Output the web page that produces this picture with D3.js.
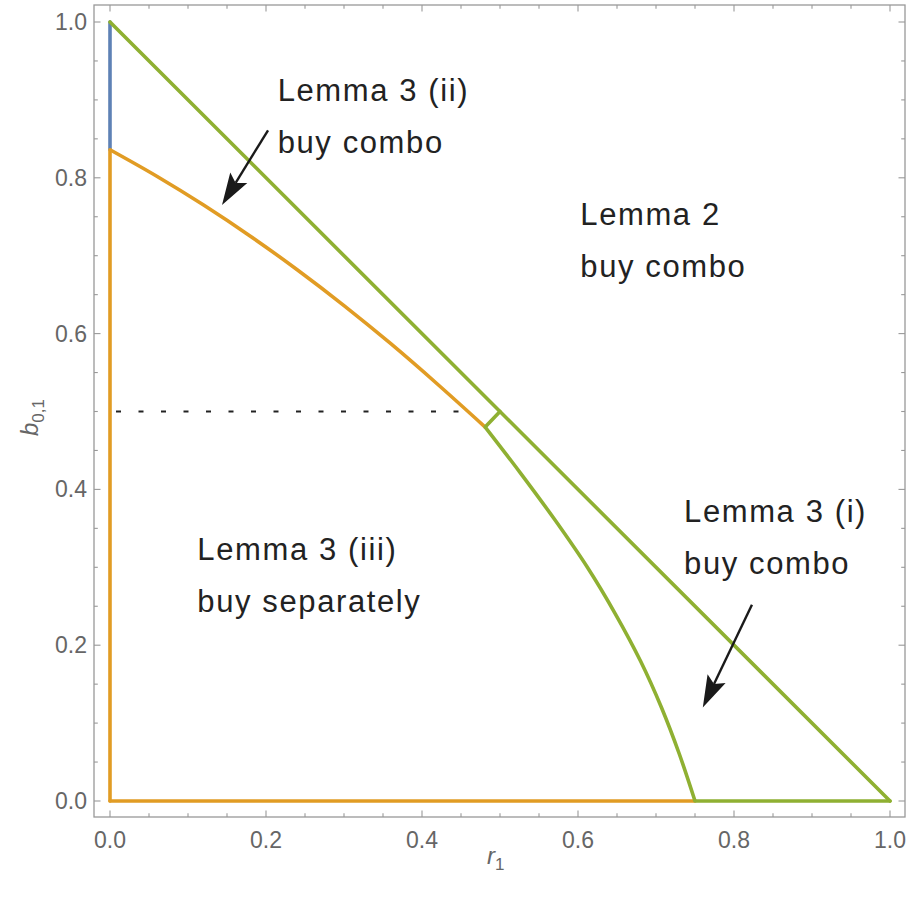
<!DOCTYPE html>
<html>
<head>
<meta charset="utf-8">
<script src="https://cdn.jsdelivr.net/npm/d3@7"></script>
<style>
  body { margin: 0; background: #fff; }
  .tick-label { font-family: "Liberation Sans", Arial, sans-serif; font-size: 23px; fill: #666; }
  .note { font-family: "Liberation Sans", Arial, sans-serif; font-size: 31px; fill: #222; letter-spacing: 1.6px; }
  .axis-title { font-family: "Liberation Sans", Arial, sans-serif; font-style: italic; font-size: 24px; fill: #666; }
</style>
</head>
<body>
<svg id="chart" width="912" height="901"></svg>
<script>
// region boundaries
const orangeR = [0, 0.06, 0.12, 0.18, 0.24, 0.30, 0.36, 0.42, 0.481];
const orangeB = [0.836, 0.802, 0.765, 0.725, 0.682, 0.636, 0.587, 0.535, 0.480];
const greenR = [0.481, 0.527, 0.571, 0.612, 0.648, 0.680, 0.707, 0.730, 0.75];
const greenB = [0.480, 0.42, 0.36, 0.30, 0.24, 0.18, 0.12, 0.06, 0];

// straight pieces: [r1, b1, r2, b2]
const blueSegs = [[0, 0.836, 0, 1]];
const orangeSegs = [[0, 0, 0, 0.836], [0, 0, 0.75, 0]];
const greenSegs = [[0, 1, 1, 0], [0.75, 0, 1, 0], [0.481, 0.48, 0.5, 0.5]];
const dottedSeg = [0, 0.5, 0.462, 0.5];

const majorTicks = [0, 0.2, 0.4, 0.6, 0.8, 1.0];
const minorTicks = [0.05, 0.1, 0.15, 0.25, 0.3, 0.35, 0.45, 0.5, 0.55, 0.65, 0.7, 0.75, 0.85, 0.9, 0.95];

// notes: [r, b, line1, line2]
const notes = [
  [0.215, 0.898, "Lemma 3 (ii)", "buy combo"],
  [0.603, 0.740, "Lemma 2", "buy combo"],
  [0.112, 0.309, "Lemma 3 (iii)", "buy separately"],
  [0.736, 0.358, "Lemma 3 (i)", "buy combo"]
];
// arrows: [fromR, fromB, toR, toB]
const arrows = [
  [0.2026, 0.861, 0.1436, 0.765],
  [0.823, 0.252, 0.760, 0.120]
];

const colors = { blue: "#5e81b5", orange: "#e19c24", green: "#8fb032" };

const svg = d3.select("#chart");
const frame = { left: 94, right: 905, top: 5, bottom: 817 };

const x = d3.scaleLinear().domain([0, 1]).range([110, 890]);
const y = d3.scaleLinear().domain([0, 1]).range([801, 22]);

// frame
svg.append("rect")
  .attr("x", frame.left).attr("y", frame.top)
  .attr("width", frame.right - frame.left)
  .attr("height", frame.bottom - frame.top)
  .attr("fill", "none").attr("stroke", "#999").attr("stroke-width", 1.3);

const tickG = svg.append("g").attr("stroke", "#999").attr("stroke-width", 1.1);
const addTicks = (vals, len) => {
  vals.forEach(v => {
    tickG.append("line").attr("x1", x(v)).attr("x2", x(v)).attr("y1", frame.bottom).attr("y2", frame.bottom - len);
    tickG.append("line").attr("x1", x(v)).attr("x2", x(v)).attr("y1", frame.top).attr("y2", frame.top + len);
    tickG.append("line").attr("y1", y(v)).attr("y2", y(v)).attr("x1", frame.left).attr("x2", frame.left + len);
    tickG.append("line").attr("y1", y(v)).attr("y2", y(v)).attr("x1", frame.right).attr("x2", frame.right - len);
  });
};
addTicks(majorTicks, 6.5);
addTicks(minorTicks, 3.8);

const fmt = d3.format(".1f");
svg.selectAll("text.xt").data(majorTicks).join("text")
  .attr("class", "tick-label xt")
  .attr("x", d => x(d)).attr("y", 848)
  .attr("text-anchor", "middle")
  .text(fmt);
svg.selectAll("text.yt").data(majorTicks).join("text")
  .attr("class", "tick-label yt")
  .attr("x", 87).attr("y", d => y(d) + 8)
  .attr("text-anchor", "end")
  .text(fmt);

// axis titles
const xt = svg.append("text").attr("class", "axis-title")
  .attr("x", 487).attr("y", 864);
xt.append("tspan").text("r");
xt.append("tspan").attr("dy", 6).attr("font-size", 17).attr("font-style", "normal").text("1");

const yt = svg.append("text").attr("class", "axis-title")
  .attr("transform", "translate(38,436) rotate(-90)");
yt.append("tspan").text("b");
yt.append("tspan").attr("dy", 6).attr("font-size", 17).attr("font-style", "normal").text("0,1");

// dotted line
svg.append("line")
  .attr("x1", x(dottedSeg[0])).attr("y1", y(dottedSeg[1]))
  .attr("x2", x(dottedSeg[2])).attr("y2", y(dottedSeg[3]))
  .attr("stroke", "#222").attr("stroke-width", 2.2)
  .attr("stroke-dasharray", "5,17.5").attr("stroke-dashoffset", 16.5);

const drawSegs = (segs, color) => {
  segs.forEach(s => {
    svg.append("line")
      .attr("x1", x(s[0])).attr("y1", y(s[1]))
      .attr("x2", x(s[2])).attr("y2", y(s[3]))
      .attr("stroke", color).attr("stroke-width", 3.6)
      .attr("stroke-linecap", "round");
  });
};

const line = d3.line().x(d => x(d[0])).y(d => y(d[1])).curve(d3.curveCatmullRom);

drawSegs(blueSegs, colors.blue);
drawSegs(orangeSegs, colors.orange);
svg.append("path")
  .attr("d", line(d3.zip(orangeR, orangeB)))
  .attr("fill", "none").attr("stroke", colors.orange).attr("stroke-width", 3.6);
drawSegs(greenSegs, colors.green);
svg.append("path")
  .attr("d", line(d3.zip(greenR, greenB)))
  .attr("fill", "none").attr("stroke", colors.green).attr("stroke-width", 3.6);

// notes
notes.forEach(n => {
  const t = svg.append("text").attr("class", "note").attr("x", x(n[0])).attr("y", y(n[1]));
  t.append("tspan").attr("x", x(n[0])).text(n[2]);
  t.append("tspan").attr("x", x(n[0])).attr("dy", 52).text(n[3]);
});

// arrows
arrows.forEach(a => {
  const x1 = x(a[0]), y1 = y(a[1]), x2 = x(a[2]), y2 = y(a[3]);
  const ang = Math.atan2(y2 - y1, x2 - x1);
  const headLen = 32, half = 10, notch = 6;
  const bx = x2 - headLen * Math.cos(ang), by = y2 - headLen * Math.sin(ang);
  const nx = x2 - (headLen - notch) * Math.cos(ang), ny = y2 - (headLen - notch) * Math.sin(ang);
  svg.append("line")
    .attr("x1", x1).attr("y1", y1).attr("x2", nx).attr("y2", ny)
    .attr("stroke", "#1a1a1a").attr("stroke-width", 2.4);
  const px = -Math.sin(ang), py = Math.cos(ang);
  svg.append("path")
    .attr("d", `M${x2},${y2} L${bx + px * half},${by + py * half} L${nx},${ny} L${bx - px * half},${by - py * half} Z`)
    .attr("fill", "#1a1a1a");
});
</script>
</body>
</html>
